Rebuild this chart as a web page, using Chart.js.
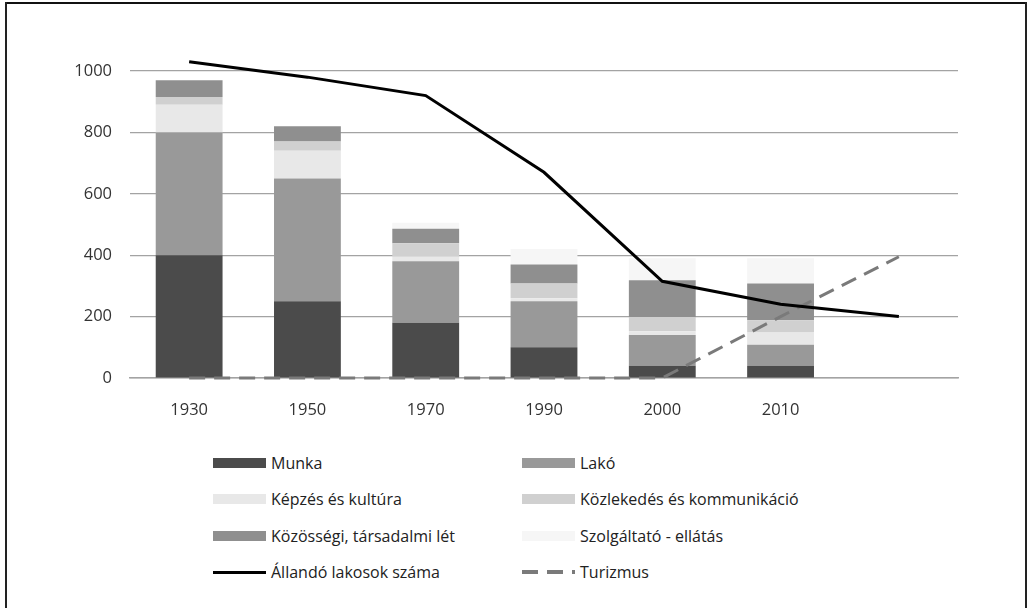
<!DOCTYPE html>
<html>
<head>
<meta charset="utf-8">
<script src="https://cdn.jsdelivr.net/npm/chart.js@4.4.0/dist/chart.umd.min.js"></script>
<style>
  html, body { margin: 0; padding: 0; background: #fff; }
  body { width: 1027px; height: 608px; position: relative; overflow: hidden; font-family: "Open Sans", sans-serif; }
  #frameTop { position: absolute; left: 5px; top: 2px; width: 1022px; height: 2px; background: #111; }
  #frameLeft { position: absolute; left: 5px; top: 2px; width: 2px; height: 606px; background: #222; }
  #frameRight { position: absolute; left: 1025px; top: 2px; width: 2px; height: 606px; background: #222; }
  #wrap { position: absolute; left: 0; top: 0; width: 1027px; height: 430px; }
  #legend { position: absolute; left: 0; top: 0; }
  .item { position: absolute; height: 22px; display: flex; align-items: center; font-size: 16px; color: #222; white-space: nowrap; }
  .sw { width: 53px; height: 10px; margin-right: 5px; flex: none; }
  .ln { width: 53px; height: 3px; margin-right: 5px; flex: none; }
</style>
</head>
<body>
<div id="frameTop"></div><div id="frameLeft"></div><div id="frameRight"></div>
<div id="wrap"><canvas id="c"></canvas></div>
<div id="legend"></div>
<script>
const categories = ['1930', '1950', '1970', '1990', '2000', '2010', ''];
const munka       = [400, 250, 180, 100, 40, 40, null];
const lako        = [400, 400, 200, 150, 100, 68, null];
const kepzes      = [90, 90, 15, 10, 12, 40, null];
const kozlekedes  = [25, 30, 44, 48, 46, 40, null];
const kozossegi   = [55, 50, 47, 62, 120, 120, null];
const szolgaltato = [0, 0, 20, 50, 72, 82, null];
const allando     = [1030, 980, 920, 670, 315, 240, 200];
const turizmus    = [0, 0, 0, 0, 0, 200, 395];
const yTicks      = [0, 200, 400, 600, 800, 1000];

const barDs = (label, data, color) => ({
  type: 'bar', label, data, backgroundColor: color, borderWidth: 0,
  stack: 's', order: 2, barPercentage: 1, categoryPercentage: 0.565
});

const datasets = [
  barDs('Munka', munka, '#4b4b4b'),
  barDs('Lakó', lako, '#999999'),
  barDs('Képzés és kultúra', kepzes, '#e8e8e8'),
  barDs('Közlekedés és kommunikáció', kozlekedes, '#d0d0d0'),
  barDs('Közösségi, társadalmi lét', kozossegi, '#8f8f8f'),
  barDs('Szolgáltató - ellátás', szolgaltato, '#f6f6f6'),
  { type: 'line', label: 'Állandó lakosok száma', data: allando, borderColor: '#000', borderWidth: 3,
    pointRadius: 0, tension: 0, fill: false, order: 0, clip: false, stack: 'lineA' },
  { type: 'line', label: 'Turizmus', data: turizmus, borderColor: '#7a7a7a', borderWidth: 3,
    borderDash: [16, 9], pointRadius: 0, tension: 0, fill: false, order: 1, clip: false, stack: 'lineB' }
];

const chart = new Chart(document.getElementById('c'), {
  data: { labels: categories, datasets },
  options: {
    responsive: true, maintainAspectRatio: false, animation: false,
    layout: { padding: { left: 0, top: 71, right: 69, bottom: 0 } },
    plugins: { legend: { display: false }, tooltip: { enabled: false } },
    scales: {
      x: {
        stacked: true,
        grid: { display: false, drawTicks: false },
        border: { display: true, color: '#a3a3a3', width: 1.5 },
        ticks: { padding: 22, color: '#333', font: { family: 'Open Sans', size: 16.5 } },
        afterFit: s => { s.height = 52; }
      },
      y: {
        stacked: true, min: 0, max: 1000,
        afterBuildTicks: s => { s.ticks = yTicks.map(v => ({ value: v })); },
        grid: { color: '#a3a3a3', lineWidth: 1.2, drawTicks: false },
        border: { display: false },
        ticks: { padding: 18, color: '#333', font: { family: 'Open Sans', size: 16.5 },
                 callback: v => String(v) },
        afterFit: s => { s.width = 130; }
      }
    }
  }
});

// HTML legend built from the chart datasets
const legendEl = document.getElementById('legend');
const colX = [213, 522];
const rowY = [463, 499, 536, 572];
chart.data.datasets.forEach((ds, i) => {
  const item = document.createElement('div');
  item.className = 'item';
  item.style.left = colX[i % 2] + 'px';
  item.style.top = (rowY[Math.floor(i / 2)] - 11) + 'px';
  const sw = document.createElement('div');
  if (ds.type === 'line') {
    sw.className = 'ln';
    if (ds.borderDash) {
      sw.style.background = 'repeating-linear-gradient(90deg,' + ds.borderColor + ' 0 16px, transparent 16px 25px)';
      sw.style.height = '4px';
    } else {
      sw.style.background = ds.borderColor;
    }
  } else {
    sw.className = 'sw';
    sw.style.background = ds.backgroundColor;
  }
  item.appendChild(sw);
  const t = document.createElement('span');
  t.textContent = ds.label;
  item.appendChild(t);
  legendEl.appendChild(item);
});
</script>
</body>
</html>
